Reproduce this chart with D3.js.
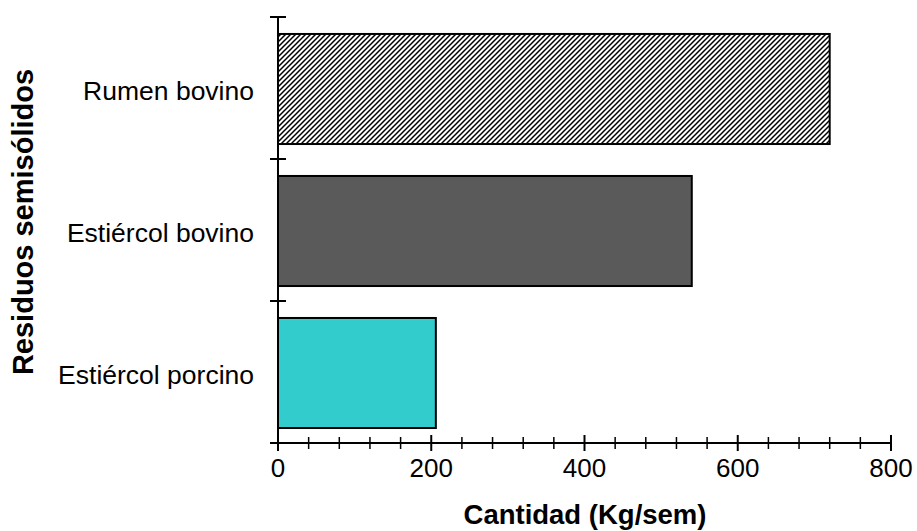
<!DOCTYPE html>
<html>
<head>
<meta charset="utf-8">
<script src="https://cdn.jsdelivr.net/npm/d3@7/dist/d3.min.js"></script>
<style>
  html, body { margin: 0; padding: 0; background: #fff; }
  svg { display: block; font-family: "Liberation Sans", Arial, sans-serif; }
</style>
</head>
<body>
<svg id="chart" width="917" height="531"></svg>
<script>
// Residuos semisólidos (Kg/sem)
const categories = ["Rumen bovino", "Estiércol bovino", "Estiércol porcino"];
const values = [720, 540, 206];
const xTicks = [0, 200, 400, 600, 800];
const xMinorTicks = d3.range(0, 801, 40);
const fills = ["url(#hatch)", "#5a5a5a", "#33cccc"];

const svg = d3.select("#chart");
const plotLeft = 278, plotRight = 891, plotTop = 17, plotBottom = 443;

const x = d3.scaleLinear().domain([0, 800]).range([plotLeft, plotRight]);
const y = d3.scaleBand().domain(categories).range([plotTop, plotBottom])
  .paddingInner(0.225).paddingOuter(0.1125);

// diagonal hatch for the first bar
const hp = 5;
const pat = svg.append("defs").append("pattern")
  .attr("id", "hatch").attr("patternUnits", "userSpaceOnUse")
  .attr("width", hp).attr("height", hp);
pat.append("rect").attr("width", hp).attr("height", hp).attr("fill", "#fff");
pat.append("path")
  .attr("d", `M-1,1 L1,-1 M0,${hp} L${hp},0 M${hp - 1},${hp + 1} L${hp + 1},${hp - 1}`)
  .attr("stroke", "#000").attr("stroke-width", 1.5);

// bars
svg.append("g").selectAll("rect").data(categories).join("rect")
  .attr("x", x(0))
  .attr("y", d => y(d) + 1)
  .attr("width", (d, i) => x(values[i]) - x(0))
  .attr("height", y.bandwidth())
  .attr("fill", (d, i) => fills[i])
  .attr("stroke", "#000").attr("stroke-width", 2);

// x axis: major and minor ticks crossing the line
const xa = svg.append("g");
xa.append("line").attr("x1", plotLeft - 8).attr("x2", plotRight)
  .attr("y1", plotBottom).attr("y2", plotBottom).attr("stroke", "#000").attr("stroke-width", 2);
xa.selectAll("line.minor").data(xMinorTicks.filter(v => v % 200 !== 0)).join("line")
  .attr("class", "minor")
  .attr("x1", d => x(d)).attr("x2", d => x(d))
  .attr("y1", plotBottom - 6).attr("y2", plotBottom + 6)
  .attr("stroke", "#000").attr("stroke-width", 1.5);
xa.selectAll("line.major").data(xTicks).join("line")
  .attr("class", "major")
  .attr("x1", d => x(d)).attr("x2", d => x(d))
  .attr("y1", plotBottom - 8).attr("y2", plotBottom + 8)
  .attr("stroke", "#000").attr("stroke-width", 2);
xa.selectAll("text").data(xTicks).join("text")
  .attr("x", d => x(d)).attr("y", plotBottom + 34)
  .attr("text-anchor", "middle").attr("font-size", 26)
  .attr("fill", "#000").text(d => d);

// y axis with ticks at the band boundaries
const ya = svg.append("g");
ya.append("line").attr("x1", plotLeft).attr("x2", plotLeft)
  .attr("y1", plotTop).attr("y2", plotBottom + 8).attr("stroke", "#000").attr("stroke-width", 2);
const step = y.step();
ya.selectAll("line.tick").data(categories).join("line")
  .attr("class", "tick")
  .attr("x1", plotLeft - 8).attr("x2", plotLeft + 8)
  .attr("y1", d => y(d) - y.paddingOuter() * step)
  .attr("y2", d => y(d) - y.paddingOuter() * step)
  .attr("stroke", "#000").attr("stroke-width", 2);
ya.selectAll("text").data(categories).join("text")
  .attr("x", 254).attr("y", d => y(d) + y.bandwidth() / 2 + 2.5)
  .attr("dy", "0.35em").attr("text-anchor", "end")
  .attr("font-size", 26.5).attr("fill", "#000").text(d => d);

// axis titles
svg.append("text").attr("x", 585).attr("y", 524)
  .attr("text-anchor", "middle").attr("font-size", 27.5).attr("font-weight", "bold")
  .text("Cantidad (Kg/sem)");
svg.append("text").attr("transform", "translate(33,222) rotate(-90)")
  .attr("text-anchor", "middle").attr("font-size", 29).attr("font-weight", "bold")
  .text("Residuos semisólidos");
</script>
</body>
</html>
